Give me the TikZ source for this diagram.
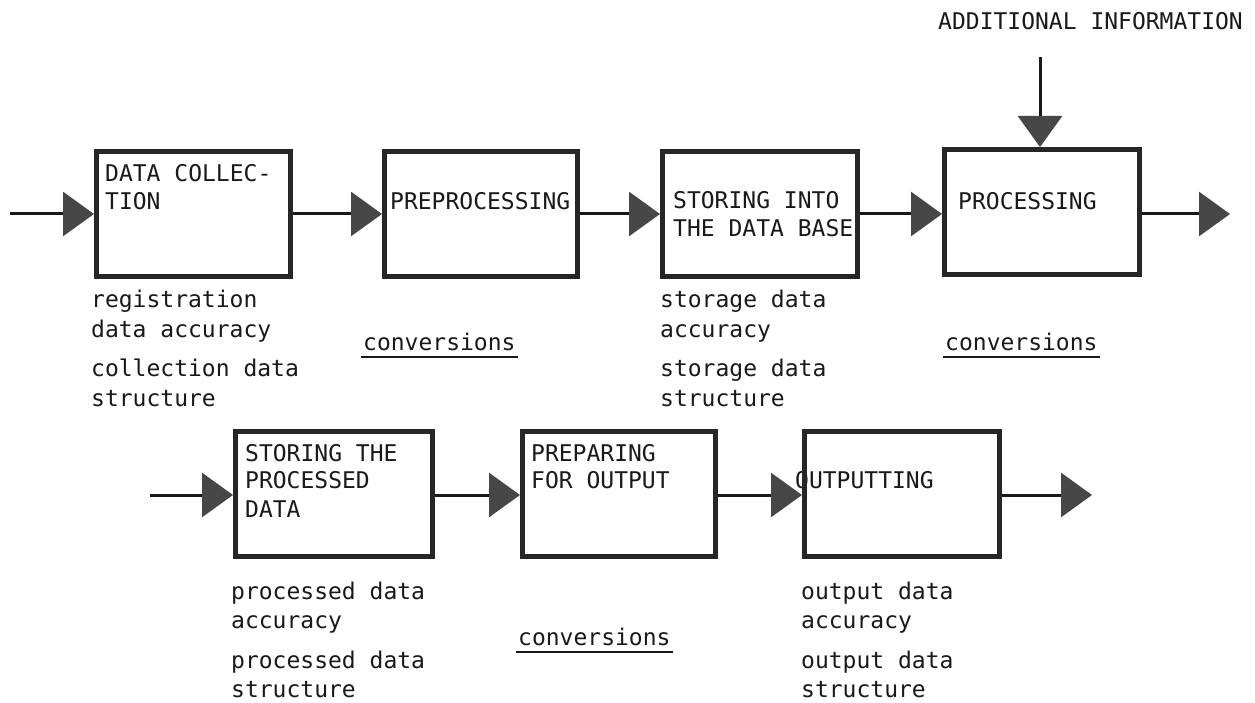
\documentclass[tikz,border=0pt]{standalone}
\usepackage{fontspec}
\usetikzlibrary{arrows.meta,calc}
\newfontfamily\twfont{DejaVu Sans Mono}
\tikzset{
  box/.style={draw=black!85, line width=5pt, minimum width=#1, minimum height=125pt, inner sep=0pt},
  conn/.style={line width=3pt, draw=black!90, -{Triangle[length=31pt,width=44pt,color=black!72]}},
  txt/.style={font=\twfont\fontsize{23}{28}\selectfont, anchor=base west, inner sep=0pt, text=black!90},
  ul/.style={line width=2pt, draw=black!90}
}
\begin{document}
\begin{tikzpicture}[x=1pt,y=-1pt]
\path[use as bounding box, fill=white] (0,0) rectangle (1255,703);

% texts inside boxes (drawn first so borders lie over them)
\node[txt] (t1a) at (105,182) {DATA COLLEC-};
\node[txt] (t1b) at (105,210) {TION};
\node[txt] (t2)  at (390,210) {PREPROCESSING};
\node[txt] (t3a) at (673,209) {STORING INTO};
\node[txt] (t3b) at (673,237) {THE DATA BASE};
\node[txt] (t4)  at (958,210) {PROCESSING};
\node[txt] (t5a) at (245,461) {STORING THE};
\node[txt] (t5b) at (245,488) {PROCESSED};
\node[txt] (t5c) at (245,517) {DATA};
\node[txt] (t6a) at (531,461) {PREPARING};
\node[txt] (t6b) at (531,488) {FOR OUTPUT};
\node[txt] (t7)  at (795,488) {OUTPUTTING};
\node[txt] (ai)  at (938,30) {ADDITIONAL INFORMATION};

% boxes
\node[box=194pt] (b1) at (193.5,214) {};
\node[box=193pt] (b2) at (481,214) {};
\node[box=195pt] (b3) at (760,214) {};
\node[box=195pt] (b4) at (1042,212) {};
\node[box=197pt] (b5) at (334,494) {};
\node[box=193pt] (b6) at (619,494) {};
\node[box=195pt] (b7) at (902,494) {};

% free ends
\coordinate (in1) at (10,214);
\coordinate (out1) at (1230,214);
\coordinate (aitop) at (1040,57);
\coordinate (in2) at (150,495);
\coordinate (out2) at (1092,495);

% connectors
\draw[conn] (in1) -- (in1 -| b1.west);
\draw[conn] (b1.east) -- (b1.east -| b2.west);
\draw[conn] (b2.east) -- (b2.east -| b3.west);
\draw[conn] (b3.east) -- (b3.east -| b4.west);
\draw[conn] (b4.east |- out1) -- (out1);
\draw[conn] (aitop) -- (aitop |- b4.north);
\draw[conn] (in2) -- (in2 -| b5.west);
\draw[conn] (b5.east |- in2) -- (in2 -| b6.west);
\draw[conn] (b6.east |- in2) -- (in2 -| b7.west);
\draw[conn] (b7.east |- out2) -- (out2);

% annotations
\node[txt] (r1a) at (91,307) {registration};
\node[txt] (r1b) at (91,337) {data accuracy};
\node[txt] (r1c) at (91,376) {collection data};
\node[txt] (r1d) at (91,406) {structure};
\node[txt] (s1a) at (660,307) {storage data};
\node[txt] (s1b) at (660,337) {accuracy};
\node[txt] (s1c) at (660,376) {storage data};
\node[txt] (s1d) at (660,406) {structure};
\node[txt] (p1a) at (231,599) {processed data};
\node[txt] (p1b) at (231,628) {accuracy};
\node[txt] (p1c) at (231,668) {processed data};
\node[txt] (p1d) at (231,697) {structure};
\node[txt] (o1a) at (801,599) {output data};
\node[txt] (o1b) at (801,628) {accuracy};
\node[txt] (o1c) at (801,668) {output data};
\node[txt] (o1d) at (801,697) {structure};

\node[txt] (c1) at (363,350) {conversions};
\node[txt] (c2) at (945,350) {conversions};
\node[txt] (c3) at (518,645) {conversions};
\draw[ul] ($(c1.base west)+(-2,7)$) -- ($(c1.base east)+(2,7)$);
\draw[ul] ($(c2.base west)+(-2,7)$) -- ($(c2.base east)+(2,7)$);
\draw[ul] ($(c3.base west)+(-2,7)$) -- ($(c3.base east)+(2,7)$);
\end{tikzpicture}
\end{document}
